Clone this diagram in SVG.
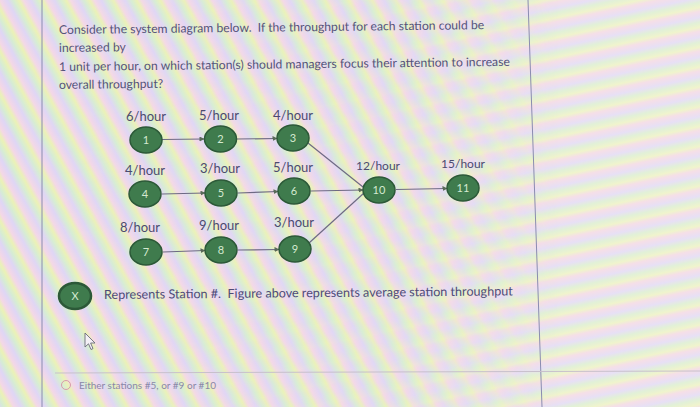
<svg xmlns="http://www.w3.org/2000/svg" width="700" height="407" viewBox="0 0 700 407">
<defs>
<linearGradient id="stripesH" gradientUnits="userSpaceOnUse" x1="0" y1="0" x2="4" y2="19" spreadMethod="repeat">
<stop offset="0" stop-color="#f2d4e0"/>
<stop offset="0.3" stop-color="#dfd6f2"/>
<stop offset="0.55" stop-color="#d8ecca"/>
<stop offset="0.8" stop-color="#ebf0bc"/>
<stop offset="1" stop-color="#f2d4e0"/>
</linearGradient>
<linearGradient id="stripesD" gradientUnits="userSpaceOnUse" x1="0" y1="0" x2="18" y2="-10" spreadMethod="repeat">
<stop offset="0" stop-color="#f0cade"/>
<stop offset="0.3" stop-color="#d4c8f2"/>
<stop offset="0.55" stop-color="#c8e6c6"/>
<stop offset="0.8" stop-color="#e4ed9e"/>
<stop offset="1" stop-color="#f0cade"/>
</linearGradient>
<linearGradient id="fade" x1="0" y1="0" x2="1" y2="0">
<stop offset="0" stop-color="#fff" stop-opacity="1"/>
<stop offset="0.55" stop-color="#fff" stop-opacity="0.8"/>
<stop offset="0.8" stop-color="#fff" stop-opacity="0"/>
</linearGradient>
<mask id="leftMask"><rect width="700" height="407" fill="url(#fade)"/></mask>
<marker id="arr" viewBox="0 0 10 10" refX="9" refY="5" markerWidth="5" markerHeight="5" orient="auto" markerUnits="userSpaceOnUse">
<path d="M0,0 L10,5 L0,10 Z" fill="#5a6a5a"/>
</marker>
<style>
text{white-space:pre}
.q{font-family:Lato,"Open Sans",sans-serif;font-size:12.2px;fill:#55537a}
.rate{font-family:Lato,"Open Sans",sans-serif;font-size:13px;fill:#4c4a70;text-anchor:middle}
.node ellipse{fill:#3f7b4d;stroke:#2c5938;stroke-width:1.5}
.num{font-family:Lato,"Open Sans",sans-serif;font-size:11px;fill:#d4ead0;text-anchor:middle}
.c{stroke:#6e6a84;stroke-width:1.2;fill:none}
.border{stroke:#8a8cb0;stroke-width:1}
</style>
</defs>
<rect width="700" height="407" fill="url(#stripesH)"/>
<rect width="700" height="407" fill="url(#stripesD)" mask="url(#leftMask)"/>
<rect width="700" height="407" fill="#ffffff" opacity="0.25"/>
<line class="border" x1="42" y1="0" x2="42" y2="407"/>
<line class="border" x1="528" y1="0" x2="542" y2="407"/>
<line x1="55" y1="373" x2="700" y2="371" stroke="#c8c0cc" stroke-width="1"/>

<g id="question">
<text class="q" x="59" y="34" transform="rotate(-0.65 59 34)">Consider the system diagram below.  If the throughput for each station could be</text>
<text class="q" x="59" y="52" transform="rotate(-0.65 59 52)">increased by</text>
<text class="q" x="59" y="71" transform="rotate(-0.65 59 71)">1 unit per hour, on which station(s) should managers focus their attention to increase</text>
<text class="q" x="59" y="89" transform="rotate(-0.65 59 89)">overall throughput?</text>
</g>

<g id="connectors">
<line class="c" x1="162" y1="139.5" x2="204" y2="139" marker-end="url(#arr)"/>
<line class="c" x1="237" y1="139" x2="277" y2="138.5" marker-end="url(#arr)"/>
<line class="c" x1="162" y1="194" x2="205" y2="193" marker-end="url(#arr)"/>
<line class="c" x1="238" y1="193" x2="278" y2="191.5" marker-end="url(#arr)"/>
<line class="c" x1="163" y1="252" x2="205" y2="250.5" marker-end="url(#arr)"/>
<line class="c" x1="238" y1="250" x2="279" y2="249.5" marker-end="url(#arr)"/>
<line class="c" x1="308" y1="143" x2="363" y2="187"/>
<line class="c" x1="311" y1="191" x2="363" y2="190" marker-end="url(#arr)"/>
<line class="c" x1="309" y1="243" x2="364" y2="193"/>
<line class="c" x1="396" y1="189.5" x2="447" y2="188.5" marker-end="url(#arr)"/>
</g>

<g id="n1" class="node"><text class="rate" x="146" y="121">6/hour</text><ellipse cx="146" cy="140" rx="16" ry="13"/><text class="num" x="146" y="144">1</text></g>
<g id="n2" class="node"><text class="rate" x="219" y="120">5/hour</text><ellipse cx="220.5" cy="139" rx="16" ry="13"/><text class="num" x="220.5" y="143">2</text></g>
<g id="n3" class="node"><text class="rate" x="293" y="120">4/hour</text><ellipse cx="293" cy="138" rx="16" ry="13"/><text class="num" x="293" y="142">3</text></g>

<g id="n4" class="node"><text class="rate" x="145" y="175">4/hour</text><ellipse cx="145" cy="194" rx="16" ry="13"/><text class="num" x="145" y="198">4</text></g>
<g id="n5" class="node"><text class="rate" x="220" y="173">3/hour</text><ellipse cx="221" cy="193" rx="16" ry="13"/><text class="num" x="221" y="197">5</text></g>
<g id="n6" class="node"><text class="rate" x="293" y="172">5/hour</text><ellipse cx="294" cy="191" rx="16" ry="13"/><text class="num" x="294" y="195">6</text></g>

<g id="n7" class="node"><text class="rate" x="140" y="232">8/hour</text><ellipse cx="146" cy="252" rx="16" ry="13"/><text class="num" x="146" y="256">7</text></g>
<g id="n8" class="node"><text class="rate" x="219" y="230">9/hour</text><ellipse cx="221" cy="250" rx="16" ry="13"/><text class="num" x="221" y="254">8</text></g>
<g id="n9" class="node"><text class="rate" x="294" y="227">3/hour</text><ellipse cx="295" cy="249" rx="16" ry="13"/><text class="num" x="295" y="253">9</text></g>

<g id="n10" class="node"><text class="rate" x="378" y="170" style="font-size:12px">12/hour</text><ellipse cx="379" cy="190" rx="16" ry="13"/><text class="num" x="379" y="194">10</text></g>
<g id="n11" class="node"><text class="rate" x="463" y="168" style="font-size:12px">15/hour</text><ellipse cx="463" cy="188" rx="16" ry="13"/><text class="num" x="463" y="192">11</text></g>

<g id="legend" class="node">
<ellipse cx="75" cy="296" rx="16" ry="13" style="stroke-width:2.5"/>
<text class="num" x="75" y="300">X</text>
<text x="104" y="299" style="font-family:Lato,'Open Sans',sans-serif;font-size:12.6px;fill:#4e4a78" transform="rotate(-0.5 104 299)">Represents Station #.  Figure above represents average station throughput</text>
</g>

<g id="cursor">
<path d="M85,333 L85,347 L88.5,343.8 L91,349.5 L93,348.6 L90.6,343 L95,343 Z" fill="#f4f0f6" stroke="#6a6a7a" stroke-width="0.9" stroke-linejoin="round"/>
</g>

<g id="option">
<circle cx="66" cy="385" r="4.5" fill="none" stroke="#d89aac" stroke-width="1"/>
<text x="79" y="389" style="font-family:Lato,'Open Sans',sans-serif;font-size:10px;fill:#8a88a8">Either stations #5, or #9 or #10</text>
</g>
</svg>
